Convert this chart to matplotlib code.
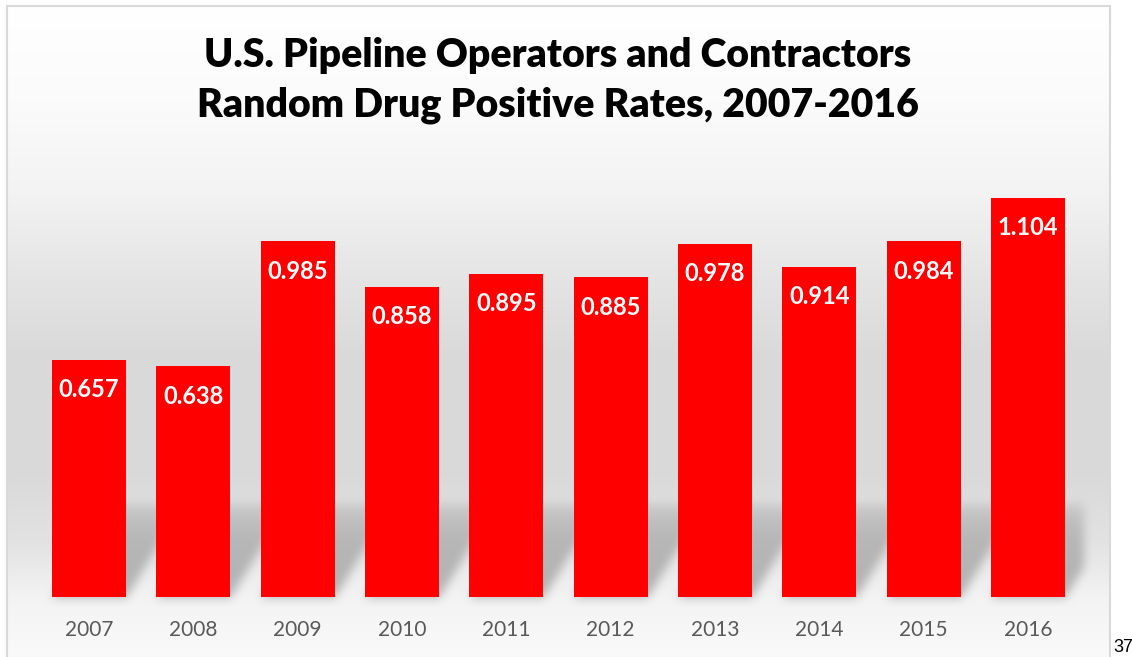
import numpy as np
import matplotlib.pyplot as plt
from matplotlib.patches import Rectangle

# Chart data
years = ['2007', '2008', '2009', '2010', '2011', '2012', '2013', '2014', '2015', '2016']
rates = [0.657, 0.638, 0.985, 0.858, 0.895, 0.885, 0.978, 0.914, 0.984, 1.104]
title_lines = ['U.S. Pipeline Operators and Contractors',
               'Random Drug Positive Rates, 2007-2016']
page_number = '37'

W, H = 1132, 657
fig = plt.figure(figsize=(W / 100, H / 100), dpi=100)
bg_ax = fig.add_axes([0, 0, 1, 1], zorder=0)
ax = fig.add_axes([26.4 / W, 60 / H, 1064.2 / W, 433.7 / H], zorder=1)
ax.set_facecolor('none')

x = np.arange(len(years))
ax.set_xlim(-0.6, 9.6)
ax.set_ylim(0, 1.2)
bars = ax.bar(x, rates, width=0.71, color='#ff0000', zorder=2)

for xi, v in zip(x, rates):
    ax.annotate(f'{v:.3f}', (xi, v), xytext=(0, -30), textcoords='offset pixels',
                ha='center', va='center', color='white', fontsize=17,
                fontweight='bold', family='Lato', zorder=3)

ax.set_xticks(x, years)
ax.tick_params(axis='x', length=0, pad=16.5, labelsize=15, labelcolor='#595959')
for lab in ax.get_xticklabels():
    lab.set_family('Lato')
ax.set_yticks([])
for s in ax.spines.values():
    s.set_visible(False)

# Background: vertical gray gradient plus skewed, blurred bar shadows
rows = np.arange(H)
stops_y = [6, 100, 190, 280, 360, 470, 540, 597, 657]
stops_v = [255, 251, 243, 228, 217, 217, 226, 243, 250]
gray = np.interp(rows, stops_y, stops_v)
img = np.repeat(gray[:, None], W, axis=1)

yy, xx = np.mgrid[0:H, 0:W].astype(float)
mask = np.zeros((H, W))
sh_h, sh_dx = 95.0, 58.0
edges = []
for b in bars:
    x0 = b.get_x()
    x1 = x0 + b.get_width()
    d = ax.transData.transform([(x0, 0), (x1, 0)])
    xl, xr = d[0, 0], d[1, 0]
    yb = H - d[0, 1]
    edges.append((xl, xr))
    t = (yb - yy) / sh_h
    shift = t * sh_dx
    inside = (t >= 0) & (t <= 1) & (xx >= xl + shift) & (xx <= xr + shift)
    mask = np.maximum(mask, inside * np.clip(1 - t, 0, 1) ** 0.4)
clip_l = edges[0][0] - 17
clip_r = edges[-1][1] + 18
mask[:, (xx[0] < clip_l) | (xx[0] > clip_r)] = 0


def box_blur(a, r):
    k = 2 * r + 1
    p = np.pad(a, r, mode='edge')
    c = np.cumsum(p, axis=0)
    c = np.vstack([np.zeros((1, c.shape[1])), c])
    a = (c[k:] - c[:-k]) / k
    c = np.cumsum(a, axis=1)
    c = np.hstack([np.zeros((c.shape[0], 1)), c])
    return (c[:, k:] - c[:, :-k]) / k


mask = box_blur(box_blur(mask, 5), 5)
img = img - 62 * mask
img[:6, :] = 255
img[:, :7] = 255
img[:, 1110:] = 255
img = np.clip(img, 0, 255) / 255.0

bg_ax.imshow(np.dstack([img] * 3), extent=[0, W, 0, H], origin='upper',
             interpolation='bilinear', aspect='auto')
bg_ax.add_patch(Rectangle((7, -5), 1103, H - 6 + 5, fill=False,
                          edgecolor='#d9d9d9', linewidth=1.5))
bg_ax.set_xlim(0, W)
bg_ax.set_ylim(0, H)
bg_ax.axis('off')

# Title and page number
fig.text(558 / W, 1 - 55 / H, title_lines[0], ha='center', va='center',
         fontsize=28.3, fontweight='heavy', family='Lato')
fig.text(558 / W, 1 - 105 / H, title_lines[1], ha='center', va='center',
         fontsize=28.3, fontweight='heavy', family='Lato')
fig.text(1113 / W, 1 - 648 / H, page_number, ha='left', va='center',
         fontsize=13, family='Liberation Sans')

fig.savefig('out.png', dpi=100)
